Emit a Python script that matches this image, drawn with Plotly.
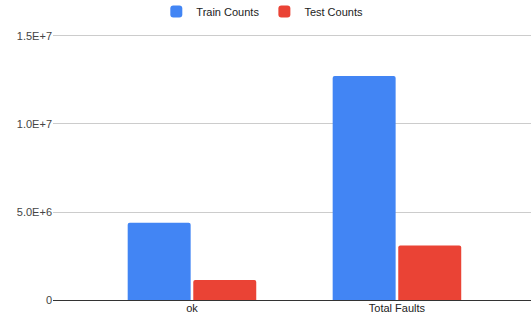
import plotly.graph_objects as go

categories = ["ok", "Total Faults"]
train_counts = [4390000, 12730000]
test_counts = [1140000, 3090000]
y_tickvals = [0, 5000000, 10000000, 15000000]
y_ticktext = ["0", "5.0E+6", "1.0E+7", "1.5E+7"]

fig = go.Figure()
fig.add_trace(go.Bar(name="Train Counts", x=categories, y=train_counts,
                     marker=dict(color="#4285F4", line=dict(width=0), cornerradius=2)))
fig.add_trace(go.Bar(name="Test Counts", x=categories, y=test_counts,
                     marker=dict(color="#EA4335", line=dict(width=0), cornerradius=2)))

fig.update_layout(
    width=531, height=322,
    margin=dict(l=53, r=0, t=33, b=22, autoexpand=False),
    plot_bgcolor="white", paper_bgcolor="white",
    barmode="group", bargap=0.36, bargroupgap=0.04,
    font=dict(family="Liberation Sans, Arial, sans-serif", size=11, color="#444444"),
    showlegend=True,
    legend=dict(orientation="h", x=0.494, xanchor="center", y=1.135, yanchor="top",
                yref="paper", xref="container",
                font=dict(size=11, color="#222222"), itemwidth=30, traceorder="normal"),
    xaxis=dict(range=[-0.678, 1.654], showgrid=False, showline=False, ticks="",
               tickfont=dict(color="#222222", size=11), zeroline=False),
    yaxis=dict(range=[0, 15170000], tickvals=y_tickvals, ticktext=y_ticktext,
               showgrid=True, gridcolor="#CCCCCC", gridwidth=1,
               zeroline=True, zerolinecolor="#333333", zerolinewidth=1,
               showline=False, ticks="", tickfont=dict(color="#444444", size=11)),
)

fig.write_html("out.html")
